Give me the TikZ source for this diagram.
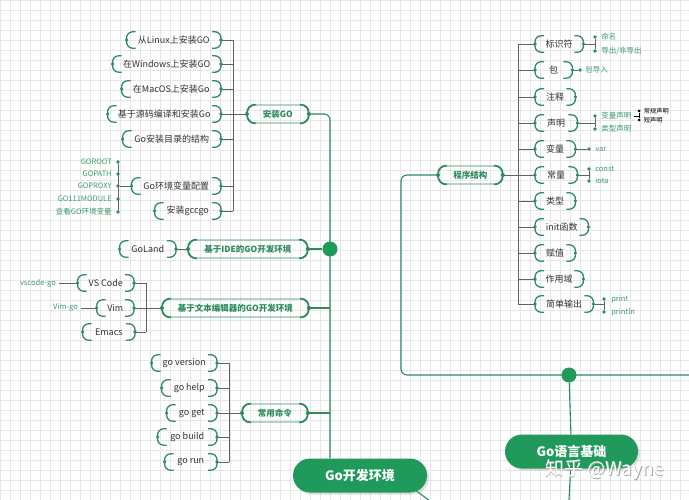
\documentclass[tikz,border=0pt]{standalone}
\usepackage{fontspec}
\setmainfont{Noto Sans CJK SC}
\usetikzlibrary{positioning,shadows}
\definecolor{brkgreen}{HTML}{2E8B5E}
\definecolor{rootgreen}{HTML}{1F9A5B}
\definecolor{tipgreen}{HTML}{3D9B6D}
\definecolor{linegray}{HTML}{626262}
\definecolor{txtgray}{HTML}{333333}
\definecolor{gridgray}{HTML}{E6E6E6}
\pgfdeclarelayer{gridlayer}
\pgfdeclarelayer{linklayer}
\pgfsetlayers{gridlayer,linklayer,main}
\tikzset{
  leaf/.style={inner xsep=5pt, inner ysep=0pt, minimum height=16pt, text=txtgray,
    font=\fontsize{9}{10}\selectfont},
  mid/.style={draw=brkgreen, line width=0.8pt, rounded corners=8pt, inner xsep=8pt,
    inner ysep=0pt, minimum height=18pt, text=brkgreen, font=\bfseries\fontsize{8.5}{10}\selectfont},
  root/.style={fill=rootgreen, rounded corners=17pt, minimum height=34pt, text=white,
    font=\bfseries\fontsize{13}{15}\selectfont,
    drop shadow={opacity=0.25, shadow xshift=2pt, shadow yshift=-2pt}},
  tip/.style={text=tipgreen, inner sep=0pt, font=\fontsize{7.5}{8}\selectfont},
  tinytip/.style={text=black, inner sep=0pt, font=\fontsize{6.2}{7}\selectfont},
  dot/.style={circle, fill=brkgreen, inner sep=0pt, minimum size=3.8pt},
  hub/.style={circle, fill=rootgreen, inner sep=0pt, minimum size=15pt},
  tree/.style={draw=linegray, line width=0.9pt},
  trunk/.style={draw=brkgreen, line width=1.1pt},
  brk/.style={draw=brkgreen, line width=1.3pt, rounded corners=6pt},
}
\begin{document}
\begin{tikzpicture}[x=1pt, y=-1pt]
\useasboundingbox (0,0) rectangle (689,500);
\begin{pgfonlayer}{gridlayer}
  \fill[white] (0,0) rectangle (689,500);
  \draw[gridgray, line width=0.4pt, step=10pt] (0,0) grid (689,500);
\end{pgfonlayer}

% Go开发环境 -- 安装GO
\node[leaf, anchor=east, minimum width=94pt] (lnx) at (221,40) {从Linux上安装GO};
\node[leaf, anchor=east, minimum width=108pt] (win) at (221,64) {在Windows上安装GO};
\node[leaf, anchor=east, minimum width=99pt] (mac) at (221,89) {在MacOS上安装Go};
\node[leaf, anchor=east, minimum width=113pt] (src) at (221,114) {基于源码编译和安装Go};
\node[leaf, anchor=east, minimum width=98pt] (dir) at (221,139) {Go安装目录的结构};
\node[leaf, anchor=east, minimum width=89pt] (env) at (221,186) {Go环境变量配置};
\node[leaf, anchor=east, minimum width=66pt] (gcc) at (221,211) {安装gccgo};
\node[mid, anchor=west, minimum width=61pt] (inst) at (247,114) {安装GO};
% 环境变量
\node[dot] (e1) at (118,162) {};
\node[dot] (e2) at (118,174) {};
\node[dot] (e3) at (118,186) {};
\node[dot] (e4) at (118,199) {};
\node[dot] (e5) at (118,212) {};
\node[tip, left=4pt of e1] (tgoroot) {GOROOT};
\node[tip, left=4pt of e2] (tgopath) {GOPATH};
\node[tip, left=4pt of e3] (tgoproxy) {GOPROXY};
\node[tip, left=4pt of e4] (tgomod) {GO111MODULE};
\node[tip, left=4pt of e5] (tgoenv) {查看GO环境变量};

% IDE
\node[leaf, anchor=east, minimum width=56pt] (goland) at (176,249) {GoLand};
\node[mid, anchor=west, minimum width=119pt] (ide) at (188,249) {基于IDE的GO开发环境};
\node[hub] (hub1) at (330,249) {};
% 文本编辑器
\node[leaf, anchor=east, minimum width=56pt] (vsc) at (134,283) {VS Code};
\node[leaf, anchor=east, minimum width=37pt] (vim) at (134,308) {Vim};
\node[leaf, anchor=east, minimum width=52pt] (emacs) at (135,332) {Emacs};
\node[mid, anchor=west, minimum width=146pt] (txted) at (162,308) {基于文本编辑器的GO开发环境};
\node[tip, anchor=east] (vscgo) at (56,283) {vscode-go};
\node[tip, anchor=east] (vimgo) at (78,308) {Vim-go};

% 常用命令
\node[leaf, anchor=east, minimum width=65pt] (ver) at (217,363) {go version};
\node[leaf, anchor=east, minimum width=55pt] (hlp) at (217,388) {go help};
\node[leaf, anchor=east, minimum width=50pt] (get) at (217,413) {go get};
\node[leaf, anchor=east, minimum width=59pt] (bld) at (217,437) {go build};
\node[leaf, anchor=east, minimum width=52pt] (run) at (217,462) {go run};
\node[mid, anchor=west, minimum width=65pt] (cmd) at (242,413) {常用命令};

\node[root, minimum width=134pt] (devenv) at (360,475.5) {Go开发环境};

% Go语言基础 -- 程序结构
\node[leaf, anchor=west, minimum width=48pt] (r-ident) at (535,44) {标识符};
\node[leaf, anchor=west, minimum width=37pt] (r-pkg) at (535,70) {包};
\node[leaf, anchor=west, minimum width=40pt] (r-cmt) at (535,97) {注释};
\node[leaf, anchor=west, minimum width=42pt] (r-decl) at (535,123) {声明};
\node[leaf, anchor=west, minimum width=40pt] (r-var) at (535,149) {变量};
\node[leaf, anchor=west, minimum width=42pt] (r-const) at (535,175) {常量};
\node[leaf, anchor=west, minimum width=40pt] (r-type) at (535,201) {类型};
\node[leaf, anchor=west, minimum width=53pt] (r-init) at (535,227) {init函数};
\node[leaf, anchor=west, minimum width=40pt] (r-assign) at (535,253) {赋值};
\node[leaf, anchor=west, minimum width=48pt] (r-scope) at (535,279) {作用域};
\node[leaf, anchor=west, minimum width=58pt] (r-out) at (535,304) {简单输出};
\node[mid, anchor=west, minimum width=64pt] (struct) at (438,175) {程序结构};
\node[hub] (hub2) at (569,375) {};
\node[root, minimum width=133pt] (basics) at (571.5,451.5) {Go语言基础};

% 小标签
\node[dot] (dname) at (595,37) {};
\node[dot] (dexp) at (595,51) {};
\node[tip, right=4pt of dname] (tname) {命名};
\node[tip, right=4pt of dexp] (texp) {导出/非导出};
\node[dot] (dimp) at (580,70) {};
\node[tip, right=3pt of dimp] (timp) {包导入};
\node[dot] (dvdecl) at (595,116) {};
\node[dot] (dtdecl) at (595,129) {};
\node[tip, right=4pt of dvdecl] (tvdecl) {变量声明};
\node[tip, right=4pt of dtdecl] (ttdecl) {类型声明};
\node[dot, fill=black, minimum size=3pt] (dreg) at (639,111) {};
\node[dot, fill=black, minimum size=3pt] (dshort) at (639,120) {};
\node[tinytip, right=3pt of dreg] (treg) {常规声明};
\node[tinytip, right=3pt of dshort] (tshort) {短声明};
\node[dot] (dvar) at (589,149) {};
\node[tip, right=4pt of dvar] (tvar) {var};
\node[dot] (dconst) at (589,169) {};
\node[dot] (diota) at (589,181) {};
\node[tip, right=4pt of dconst] (tconst) {const};
\node[tip, right=4pt of diota] (tiota) {iota};
\node[dot] (dprint) at (604,299) {};
\node[dot] (dprintln) at (604,312) {};
\node[tip, right=5pt of dprint] (tprint) {print};
\node[tip, right=5pt of dprintln] (tprintln) {println};

% 水印
\node[text=gray!70, font=\fontsize{19}{22}\selectfont] at (605.6,470.6) {知乎 @Wayne};
\node[text=white, font=\fontsize{19}{22}\selectfont] (wm) at (605,470) {知乎 @Wayne};

% 括号
\foreach \n in {lnx,win,mac,src,dir,env,gcc,goland,vsc,vim,emacs,ver,hlp,get,bld,run,
  r-ident,r-pkg,r-cmt,r-decl,r-var,r-const,r-type,r-init,r-assign,r-scope,r-out}{
  \draw[brk] ([xshift=9pt]\n.north west) -- (\n.north west) -- (\n.south west) -- ([xshift=9pt]\n.south west);
  \draw[brk] ([xshift=-9pt]\n.north east) -- (\n.north east) -- (\n.south east) -- ([xshift=-9pt]\n.south east);
  \fill[brkgreen] (\n.west) circle (1.8pt) (\n.east) circle (1.8pt);
}
\foreach \n in {inst,ide,txted,cmd,struct}{
  \draw[brk, rounded corners=8pt, line width=1.6pt] ([xshift=9pt]\n.north west) -- (\n.north west) -- (\n.south west) -- ([xshift=9pt]\n.south west);
  \draw[brk, rounded corners=8pt, line width=1.6pt] ([xshift=-9pt]\n.north east) -- (\n.north east) -- (\n.south east) -- ([xshift=-9pt]\n.south east);
  \fill[brkgreen] (\n.west) circle (2pt) (\n.east) circle (2pt);
}

\begin{pgfonlayer}{linklayer}
  \coordinate (va) at (233,0);
  \coordinate (vb) at (146,0);
  \coordinate (vc) at (229,0);
  \coordinate (tk) at (330,0);
  \coordinate (rv) at (518,0);
  \coordinate (lft) at (401,0);
  \coordinate (rgt) at (689,375);
  \coordinate (off1) at (445,512);
  \coordinate (off2) at (569,500);
  % 安装GO
  \draw[tree] (lnx.east -| va) -- (gcc.east -| va);
  \foreach \n in {lnx,win,mac,src,dir,env,gcc}
    \draw[tree] (\n.east) -- (\n.east -| va);
  \draw[tree] (src.east -| va) -- (inst.west);
  \draw[tree] (e1) -- (e5);
  \draw[tree] (e3) -- (env.west);
  % IDE / 编辑器
  \draw[tree] (goland.east) -- (ide.west);
  \draw[tree] (vsc.east -| vb) -- (emacs.east -| vb);
  \foreach \n in {vsc,vim,emacs}
    \draw[tree] (\n.east) -- (\n.east -| vb);
  \draw[tree] (vim.east -| vb) -- (txted.west);
  \draw[tree] ([xshift=3pt]vscgo.east) -- (vsc.west);
  \draw[tree] ([xshift=3pt]vimgo.east) -- (vim.west);
  % 常用命令
  \draw[tree] (ver.east -| vc) -- (run.east -| vc);
  \foreach \n in {ver,hlp,get,bld,run}
    \draw[tree] (\n.east) -- (\n.east -| vc);
  \draw[tree] (get.east -| vc) -- (cmd.west);
  % 主干
  \draw[trunk, rounded corners=6pt] (inst.east) -- (inst.east -| tk) -- (devenv.north -| tk);
  \draw[trunk] (ide.east) -- (hub1);
  \draw[trunk] (txted.east) -- (txted.east -| tk);
  \draw[trunk] (cmd.east) -- (cmd.east -| tk);
  \draw[trunk] ([xshift=-14pt,yshift=4pt]devenv.south east) -- (off1);
  % 程序结构
  \draw[tree] (r-ident.west -| rv) -- (r-out.west -| rv);
  \foreach \n in {r-ident,r-pkg,r-cmt,r-decl,r-var,r-const,r-type,r-init,r-assign,r-scope,r-out}
    \draw[tree] (\n.west -| rv) -- (\n.west);
  \draw[tree] (struct.east) -- (struct.east -| rv);
  \draw[trunk, rounded corners=6pt] (struct.west) -- (struct.west -| lft) -- (hub2 -| lft) -- (rgt);
  \draw[trunk] (hub2) -- (basics);
  \draw[trunk] (basics) -- (off2);
  % 小标签连线
  \draw[tree, line width=0.7pt] (dname) -- (dexp);
  \draw[tree, line width=0.7pt] (r-ident.east) -- (r-ident.east -| dname);
  \draw[tree, line width=0.7pt] (r-pkg.east) -- (dimp);
  \draw[tree, line width=0.7pt] (dvdecl) -- (dtdecl);
  \draw[tree, line width=0.7pt] (r-decl.east) -- (r-decl.east -| dvdecl);
  \draw[black, line width=0.6pt] (dreg) -- (dshort);
  \draw[black, line width=0.6pt] ([xshift=2pt]tvdecl.east) -- (tvdecl.east -| dreg);
  \draw[tree, line width=0.7pt] (r-var.east) -- (dvar);
  \draw[tree, line width=0.7pt] (dconst) -- (diota);
  \draw[tree, line width=0.7pt] (r-const.east) -- (r-const.east -| dconst);
  \draw[tree, line width=0.7pt] (dprint) -- (dprintln);
  \draw[tree, line width=0.7pt] (r-out.east) -- (r-out.east -| dprint);
\end{pgfonlayer}
\end{tikzpicture}
\end{document}
